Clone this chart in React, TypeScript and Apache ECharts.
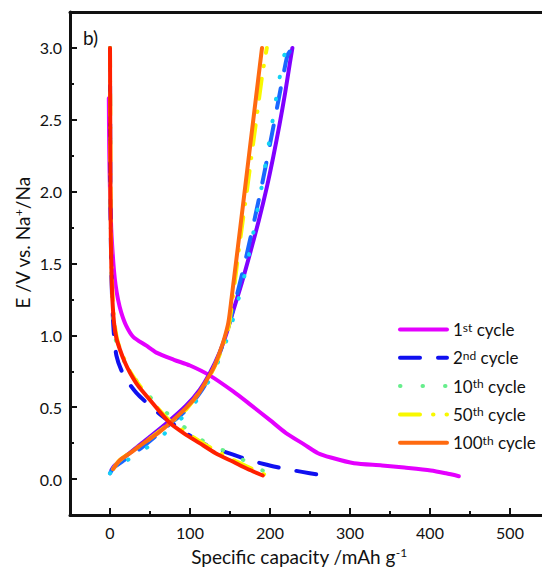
import { useEffect, useRef } from 'react'
import * as echarts from 'echarts'

// Galvanostatic discharge/charge profiles, E (V vs Na+/Na) against specific
// capacity (mAh/g).

type Pt = [number, number]

// discharge (sodiation) branches
const dis1st: Pt[] = [
  [-1.5, 2.65], [-1, 2.3], [0, 2.0], [1.5, 1.75], [3, 1.6], [5, 1.45], [7, 1.35],
  [10, 1.25], [14, 1.16], [20, 1.07], [29, 0.99], [45, 0.93], [58, 0.88], [80, 0.83],
  [100, 0.79], [125, 0.72], [154, 0.61], [175, 0.52], [200, 0.41], [220, 0.32],
  [243, 0.24], [260, 0.18], [276, 0.15], [305, 0.11], [340, 0.095], [368, 0.08],
  [401, 0.06], [420, 0.04], [436, 0.02],
]
const dis2nd: Pt[] = [
  [0, 3.0], [0.5, 2.0], [1.5, 1.5], [3, 1.2], [5, 1.0], [8, 0.86], [14, 0.76], [22, 0.68],
  [33, 0.6], [50, 0.51], [67, 0.43], [90, 0.34], [112, 0.26], [133, 0.21], [154, 0.17],
  [175, 0.13], [196, 0.1], [215, 0.075], [240, 0.05], [261, 0.03],
]
const dis10th: Pt[] = [
  [0, 3.0], [0.5, 2.0], [1.5, 1.5], [3, 1.2], [6, 1.0], [12, 0.88], [21, 0.79], [35, 0.67],
  [52, 0.56], [73, 0.45], [98, 0.34], [121, 0.25], [148, 0.185], [173, 0.115], [188, 0.07],
  [197, 0.035],
]
const dis50th: Pt[] = [
  [0, 3.0], [0.4, 2.5], [0.7, 2.0], [1.2, 1.7], [2, 1.45], [3.5, 1.25], [5.5, 1.09],
  [9, 0.97], [13, 0.9], [26, 0.74], [51, 0.55], [76, 0.4], [113, 0.26], [155, 0.13],
  [174, 0.08], [194, 0.03],
]
const dis100th: Pt[] = [
  [0, 3.0], [0.3, 2.5], [0.6, 2.0], [1, 1.7], [1.8, 1.45], [3, 1.25], [5, 1.09], [8, 0.98],
  [12.5, 0.9], [18, 0.82], [25, 0.74], [35, 0.65], [50, 0.55], [62, 0.47], [75, 0.39],
  [92, 0.32], [112, 0.25], [132, 0.18], [154, 0.12], [172, 0.07], [191, 0.025],
]

// charge (desodiation) branches
const chg1st: Pt[] = [
  [2, 0.065], [5, 0.09], [20, 0.16], [40, 0.25], [71, 0.39], [95, 0.51], [112, 0.62],
  [125, 0.74], [137, 0.88], [146, 1.02], [154, 1.17], [165, 1.37], [175, 1.57], [186, 1.8],
  [196, 2.03], [204, 2.24], [212, 2.47], [219, 2.69], [225, 2.9], [228, 3.0],
]
const chg2nd: Pt[] = [
  [0, 0.04], [5, 0.08], [20, 0.14], [40, 0.22], [70, 0.36], [95, 0.48], [115, 0.62],
  [130, 0.78], [140, 0.92], [150, 1.1], [160, 1.31], [170, 1.54], [180, 1.79], [190, 2.05],
  [200, 2.33], [210, 2.62], [218, 2.85], [222, 2.95], [228, 3.0],
]
const chg10th: Pt[] = [
  [0, 0.04], [10, 0.09], [30, 0.16], [54, 0.25], [75, 0.35], [96, 0.46], [115, 0.6],
  [127, 0.72], [140, 0.88], [150, 1.04], [160, 1.24], [170, 1.46], [178, 1.68], [185, 1.89],
  [191, 2.08], [197, 2.28], [204, 2.52], [210, 2.73], [215, 2.88], [220, 3.0],
]
const chg50th: Pt[] = [
  [4, 0.07], [12, 0.13], [42, 0.25], [75, 0.39], [96, 0.49], [121, 0.68], [133, 0.81],
  [142, 0.94], [148, 1.05], [152, 1.2], [156, 1.37], [160, 1.55], [165, 1.76], [170, 1.96],
  [175, 2.17], [180, 2.38], [185, 2.59], [190, 2.8], [196, 3.0],
]
const chg100th: Pt[] = [
  [4, 0.07], [12, 0.13], [25, 0.18], [42, 0.25], [60, 0.32], [75, 0.39], [96, 0.5],
  [110, 0.59], [121, 0.69], [130, 0.78], [137, 0.88], [143, 0.98], [148, 1.09], [152, 1.26],
  [156, 1.44], [160, 1.62], [165, 1.85], [170, 2.08], [175, 2.31], [180, 2.54], [185, 2.77],
  [190, 3.0],
]

const LEGEND = ['1st cycle', '2nd cycle', '10th cycle', '50th cycle', '100th cycle']
const X_MAJOR = [0, 100, 200, 300, 400, 500]
const X_MINOR = [50, 150, 250, 350, 450]
const Y_MAJOR = [0, 0.5, 1.0, 1.5, 2.0, 2.5, 3.0]
const Y_MINOR = [0.25, 0.75, 1.25, 1.75, 2.25, 2.75]

const FONT = 'Lato'
const INK = '#111'

const SOLID = 'solid' as const
const DASHED = [20, 18]
const DOTTED = [0.5, 22]
const DASHDOT = [20, 13, 0.5, 13]

const CURVES = [
  { name: '1st cycle', data: dis1st, color: '#e400ff', type: SOLID },
  { name: '1st cycle (charge)', data: chg1st, color: '#8000ff', type: SOLID },
  { name: '2nd cycle', data: dis2nd, color: '#1010f0', type: DASHED },
  { name: '2nd cycle (charge)', data: chg2nd, color: '#1a66ff', type: DASHED },
  { name: '10th cycle', data: dis10th, color: '#66ee8c', type: DOTTED },
  { name: '10th cycle (charge)', data: chg10th, color: '#14d2f5', type: DOTTED },
  { name: '50th cycle', data: dis50th, color: '#f8f800', type: DASHDOT },
  { name: '50th cycle (charge)', data: chg50th, color: '#f8f800', type: DASHDOT },
  { name: '100th cycle', data: chg100th, color: '#ff6a10', type: SOLID },
  { name: '100th cycle (discharge)', data: dis100th, color: '#ff2000', type: SOLID },
]

const sup = { fontSize: 11, fontFamily: FONT, color: INK, verticalAlign: 'top' as const }

export default function App() {
  const ref = useRef<HTMLDivElement>(null)

  useEffect(() => {
    const el = ref.current
    if (!el) return
    const chart = echarts.init(el, undefined, { renderer: 'svg' })

    const axisLine = { show: true, onZero: false, lineStyle: { color: INK, width: 3 } }
    const baseX = { type: 'value' as const, min: -50, max: 540, splitLine: { show: false } }
    const baseY = { type: 'value' as const, min: -0.25, max: 3.25, splitLine: { show: false } }
    const tick = (values: number[], length: number) => ({
      inside: true,
      length,
      customValues: values,
      lineStyle: { width: 2, color: INK },
    })

    chart.setOption({
      animation: false,
      textStyle: { fontFamily: FONT },
      grid: { left: 70, right: 0, top: 12, bottom: 55 },
      xAxis: [
        {
          ...baseX,
          position: 'bottom',
          axisLine,
          axisTick: tick(X_MAJOR, 7),
          axisLabel: { customValues: X_MAJOR, fontSize: 16, color: INK, margin: 9 },
        },
        {
          ...baseX,
          position: 'top',
          axisLine,
          axisTick: { show: false },
          axisLabel: { show: false },
        },
        {
          ...baseX,
          position: 'bottom',
          axisLine: { show: false, onZero: false },
          axisTick: tick(X_MINOR, 4),
          axisLabel: { show: false },
        },
      ],
      yAxis: [
        {
          ...baseY,
          position: 'left',
          axisLine,
          axisTick: tick(Y_MAJOR, 7),
          axisLabel: {
            customValues: Y_MAJOR,
            formatter: (v: number) => v.toFixed(1),
            fontSize: 16,
            color: INK,
            margin: 8,
          },
        },
        {
          ...baseY,
          position: 'left',
          axisLine: { show: false, onZero: false },
          axisTick: tick(Y_MINOR, 4),
          axisLabel: { show: false },
        },
      ],
      legend: {
        data: LEGEND,
        orient: 'vertical',
        left: 398,
        top: 321,
        padding: 0,
        itemWidth: 47,
        itemHeight: 20,
        itemGap: 11.3,
        selectedMode: false,
        itemStyle: { opacity: 0 },
        lineStyle: { width: 4 },
        formatter: (n: string) => n.replace(/^(\d+)(st|nd|rd|th)/, '$1{s|$2}'),
        textStyle: {
          fontSize: 17,
          fontFamily: FONT,
          color: INK,
          padding: [0, 0, 0, 1],
          rich: { s: { ...sup, fontSize: 12 } },
        },
      },
      graphic: [
        {
          type: 'text',
          x: 83,
          y: 37,
          style: { text: 'b)', fontSize: 19, fontFamily: FONT, fill: INK, verticalAlign: 'middle' },
        },
        {
          type: 'text',
          x: 299,
          y: 556,
          style: {
            text: 'Specific capacity /mAh g{s|-1}',
            fontSize: 19,
            fontFamily: FONT,
            fill: INK,
            align: 'center',
            verticalAlign: 'middle',
            rich: { s: { ...sup, fontSize: 12 } },
          },
        },
        {
          type: 'text',
          x: 22,
          y: 243,
          rotation: Math.PI / 2,
          style: {
            text: 'E /V vs. Na{s|+}/Na',
            fontSize: 19,
            fontFamily: FONT,
            fill: INK,
            align: 'center',
            verticalAlign: 'middle',
            rich: { s: { ...sup, fontSize: 12 } },
          },
        },
      ],
      series: CURVES.map((c) => ({
        name: c.name,
        type: 'line',
        xAxisIndex: 0,
        yAxisIndex: 0,
        data: c.data,
        showSymbol: false,
        symbol: 'none',
        smooth: 0.25,
        color: c.color,
        lineStyle: { color: c.color, width: 4, type: c.type, cap: 'round', join: 'round' },
      })),
    })

    return () => chart.dispose()
  }, [])

  return (
    <div
      ref={ref}
      style={{ position: 'absolute', left: 0, top: 0, width: 542, height: 570, background: '#fff' }}
    />
  )
}
